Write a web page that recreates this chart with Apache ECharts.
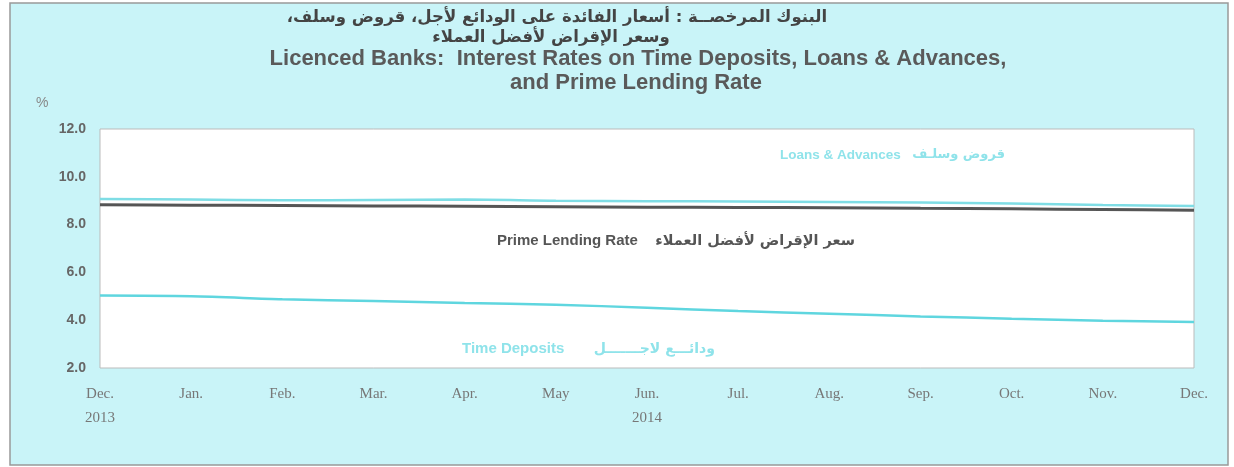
<!DOCTYPE html>
<html>
<head>
<meta charset="utf-8">
<script src="https://cdn.jsdelivr.net/npm/echarts@6/dist/echarts.min.js"></script>
<style>
  html, body { margin: 0; padding: 0; background: #fff; }
  #box { width: 1234px; height: 467px; }
</style>
</head>
<body>
<div id="box"></div>
<script>
// months, Dec 2013 .. Dec 2014
const months = ['Dec.\n2013', 'Jan.', 'Feb.', 'Mar.', 'Apr.', 'May', 'Jun.\n2014',
  'Jul.', 'Aug.', 'Sep.', 'Oct.', 'Nov.', 'Dec.'];

// interest rates (%)
const loansAdvances = [9.07, 9.05, 9.02, 9.03, 9.05, 9.00, 8.98, 8.97, 8.95, 8.92, 8.88, 8.82, 8.78];
const primeLending  = [8.83, 8.81, 8.80, 8.78, 8.77, 8.75, 8.73, 8.72, 8.70, 8.68, 8.66, 8.63, 8.60];
const timeDeposits  = [5.03, 5.00, 4.88, 4.80, 4.72, 4.65, 4.52, 4.38, 4.27, 4.16, 4.06, 3.98, 3.92];

const yTicks = [2, 4, 6, 8, 10, 12];

const containerDom = document.getElementById('box');
const myChart = echarts.init(containerDom);

const cyan = '#5fd6df';
const lightCyan = '#8fe3ea';
const greyText = '#666';
const arFont = '"DejaVu Sans", sans-serif';
const enFont = '"Liberation Sans", Arial, sans-serif';

// helper for the annotation texts
const txt = (x, y, text, font, fill, align) => ({
  type: 'text', x: x, y: y,
  style: { text: text, font: font, fill: fill, align: align || 'left', verticalAlign: 'middle' }
});

const option = {
  animation: false,
  backgroundColor: '#fff',
  graphic: [
    {
      type: 'rect', z: -10,
      shape: { x: 10, y: 3, width: 1218, height: 462 },
      style: { fill: '#c9f4f8', stroke: '#999', lineWidth: 1.5 }
    },
    // title lines
    txt(557, 18, 'البنوك المرخصــة : أسعار الفائدة على الودائع لأجل، قروض وسلف،\u200F',
      'bold 16.5px ' + arFont, '#444', 'center'),
    txt(551, 38, 'وسعر الإقراض لأفضل العملاء', 'bold 16.5px ' + arFont, '#444', 'center'),
    txt(638, 59, 'Licenced Banks:  Interest Rates on Time Deposits, Loans & Advances,',
      'bold 22px ' + enFont, '#5a5a5a', 'center'),
    txt(636, 83, 'and Prime Lending Rate', 'bold 22px ' + enFont, '#5a5a5a', 'center'),
    txt(36, 103, '%', '14px ' + enFont, '#888'),
    // series annotations
    txt(780, 155, 'Loans & Advances', 'bold 13.5px ' + enFont, lightCyan),
    txt(1005, 155, 'قروض وسلـف', 'bold 13px ' + arFont, lightCyan, 'right'),
    txt(497, 241, 'Prime Lending Rate', 'bold 15px ' + enFont, '#555'),
    txt(855, 241, 'سعر الإقراض لأفضل العملاء', 'bold 14.5px ' + arFont, '#555', 'right'),
    txt(462, 349, 'Time Deposits', 'bold 15px ' + enFont, lightCyan),
    txt(715, 349, 'ودائـــع لاجـــــــل', 'bold 14px ' + arFont, lightCyan, 'right')
  ],
  grid: {
    left: 100, right: 40, top: 129, bottom: 99,
    show: true, backgroundColor: '#fff', borderColor: '#bbb', borderWidth: 1
  },
  xAxis: {
    type: 'category',
    data: months,
    boundaryGap: false,
    axisLine: { show: false },
    axisTick: { show: false },
    axisLabel: {
      margin: 14, color: '#777', lineHeight: 24,
      fontFamily: '"Liberation Serif", "Times New Roman", serif', fontSize: 15,
      interval: 0
    },
    splitLine: { show: false }
  },
  yAxis: {
    type: 'value',
    min: yTicks[0], max: yTicks[yTicks.length - 1], interval: 2,
    axisLine: { show: false },
    axisTick: { show: false },
    splitLine: { show: false },
    axisLabel: {
      margin: 14, color: greyText, fontWeight: 'bold', fontSize: 14,
      fontFamily: enFont,
      formatter: v => v.toFixed(1)
    }
  },
  series: [
    {
      name: 'Loans & Advances', type: 'line', data: loansAdvances,
      symbol: 'none', smooth: 0.3,
      lineStyle: { color: '#7fdde5', width: 2.5 }
    },
    {
      name: 'Prime Lending Rate', type: 'line', data: primeLending,
      symbol: 'none', smooth: 0.3,
      lineStyle: { color: '#555', width: 3 }
    },
    {
      name: 'Time Deposits', type: 'line', data: timeDeposits,
      symbol: 'none', smooth: 0.3,
      lineStyle: { color: cyan, width: 2.5 }
    }
  ]
};

myChart.setOption(option);
</script>
</body>
</html>
